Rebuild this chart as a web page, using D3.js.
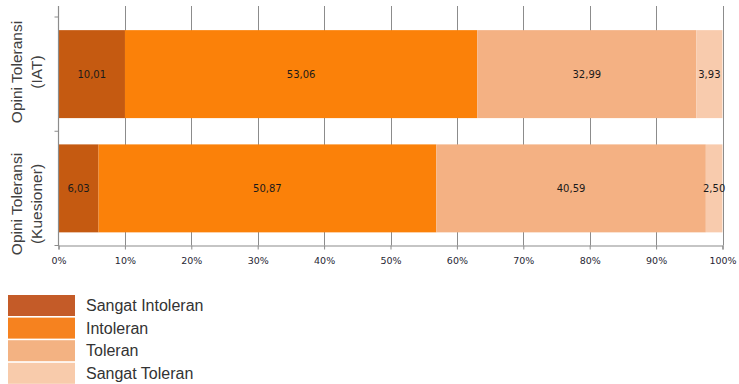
<!DOCTYPE html>
<html>
<head>
<meta charset="utf-8">
<script src="https://cdn.jsdelivr.net/npm/d3@7"></script>
<style>
  html, body { margin: 0; padding: 0; background: #fff; }
  svg { display: block; }
</style>
</head>
<body>
<svg id="chart" width="739" height="384"></svg>
<script>
// Share of respondents per tolerance category, for each measurement method
const categories = ["Opini Toleransi (IAT)", "Opini Toleransi (Kuesioner)"];
const categoryLines = [["Opini Toleransi", "(IAT)"], ["Opini Toleransi", "(Kuesioner)"]];
const seriesNames = ["Sangat Intoleran", "Intoleran", "Toleran", "Sangat Toleran"];
const sangatIntoleran = [10.01, 6.03];
const intoleran = [53.06, 50.87];
const toleran = [32.99, 40.59];
const sangatToleran = [3.93, 2.50];
const xTicks = [0, 10, 20, 30, 40, 50, 60, 70, 80, 90, 100];

const barColors = ["#c55a11", "#fb8109", "#f4b183", "#f8cbad"];
const legendColors = ["#c45b28", "#f6821f", "#f3b282", "#f8cbab"];

const seriesValues = [sangatIntoleran, intoleran, toleran, sangatToleran];
const rows = categories.map((c, i) => {
  const r = { category: c };
  seriesNames.forEach((s, k) => { r[s] = seriesValues[k][i]; });
  return r;
});
const stacked = d3.stack().keys(seriesNames)(rows);

const svg = d3.select("#chart");
const plotLeft = 58.5, plotRight = 722.5, plotTop = 6, plotBottom = 245.5;

const x = d3.scaleLinear().domain([0, 100]).range([plotLeft, plotRight]);
const y = d3.scaleBand().domain(categories).range([17, plotBottom])
  .paddingInner(0.23).paddingOuter(0.115);

// vertical gridlines
svg.append("g")
  .selectAll("line")
  .data(xTicks.filter(t => t > 0))
  .join("line")
  .attr("x1", d => Math.round(x(d)) + 0.5)
  .attr("x2", d => Math.round(x(d)) + 0.5)
  .attr("y1", plotTop)
  .attr("y2", plotBottom)
  .attr("stroke", "#8c8c8c")
  .attr("stroke-width", 1);

// stacked bars
const layers = svg.append("g")
  .selectAll("g")
  .data(stacked)
  .join("g")
  .attr("fill", (d, i) => barColors[i]);

layers.selectAll("rect")
  .data(d => d)
  .join("rect")
  .attr("x", d => x(d[0]))
  .attr("width", d => x(d[1]) - x(d[0]))
  .attr("y", d => y(d.data.category))
  .attr("height", y.bandwidth());

// value labels centred in each segment
const fmt = v => v.toFixed(2).replace(".", ",");
svg.append("g")
  .selectAll("g")
  .data(stacked)
  .join("g")
  .selectAll("text")
  .data(d => d.map(p => ({ p, key: d.key })))
  .join("text")
  .attr("x", d => (x(d.p[0]) + x(d.p[1])) / 2)
  .attr("y", d => y(d.p.data.category) + y.bandwidth() / 2)
  .attr("dy", "0.35em")
  .attr("text-anchor", "middle")
  .attr("font-family", "DejaVu Sans, sans-serif")
  .attr("font-size", 10)
  .attr("fill", "#1a1a1a")
  .text(d => fmt(d.p.data[d.key]));

// left axis line with category tick marks
const axisColor = "#8c8c8c";
svg.append("line")
  .attr("x1", plotLeft).attr("x2", plotLeft)
  .attr("y1", plotTop).attr("y2", plotBottom + 0.5)
  .attr("stroke", axisColor).attr("stroke-width", 1.2);

const bandEdges = [y.range()[0], (y(categories[0]) + y.bandwidth() + y(categories[1])) / 2, plotBottom];
svg.append("g")
  .selectAll("line")
  .data(bandEdges)
  .join("line")
  .attr("x1", plotLeft - 4).attr("x2", plotLeft)
  .attr("y1", d => d).attr("y2", d => d)
  .attr("stroke", axisColor).attr("stroke-width", 1);

// bottom axis
const xAxis = svg.append("g")
  .attr("transform", `translate(0,${plotBottom})`)
  .call(d3.axisBottom(x).tickValues(xTicks).tickSize(4).tickFormat(d => d + "%"));
xAxis.select(".domain").attr("stroke", axisColor).attr("stroke-width", 1.2);
xAxis.selectAll(".tick line").attr("stroke", axisColor);
xAxis.selectAll(".tick text")
  .attr("font-family", "DejaVu Sans, sans-serif")
  .attr("font-size", 9.5)
  .attr("fill", "#262633")
  .attr("y", 12);

// category titles, rotated, two lines each
const labelCenters = [72, 204];
categoryLines.forEach((lines, i) => {
  const g = svg.append("g")
    .attr("transform", `translate(27,${labelCenters[i]}) rotate(-90)`);
  g.selectAll("text")
    .data(lines)
    .join("text")
    .attr("x", 0)
    .attr("y", (d, k) => (k - 0.5) * 20)
    .attr("dy", "0.35em")
    .attr("text-anchor", "middle")
    .attr("font-family", "Liberation Sans, Arial, sans-serif")
    .attr("font-size", 15.5)
    .attr("fill", "#404040")
    .text(d => d);
});

// legend
const legend = svg.append("g").attr("transform", "translate(8,295)");
const legendRows = legend.selectAll("g")
  .data(seriesNames)
  .join("g")
  .attr("transform", (d, i) => `translate(0,${i * 22.6})`);
legendRows.append("rect")
  .attr("width", 67)
  .attr("height", 21)
  .attr("fill", (d, i) => legendColors[i]);
legendRows.append("text")
  .attr("x", 78)
  .attr("y", 10.5)
  .attr("dy", "0.35em")
  .attr("font-family", "Liberation Sans, Arial, sans-serif")
  .attr("font-size", 16)
  .attr("fill", "#333333")
  .text(d => d);
</script>
</body>
</html>
